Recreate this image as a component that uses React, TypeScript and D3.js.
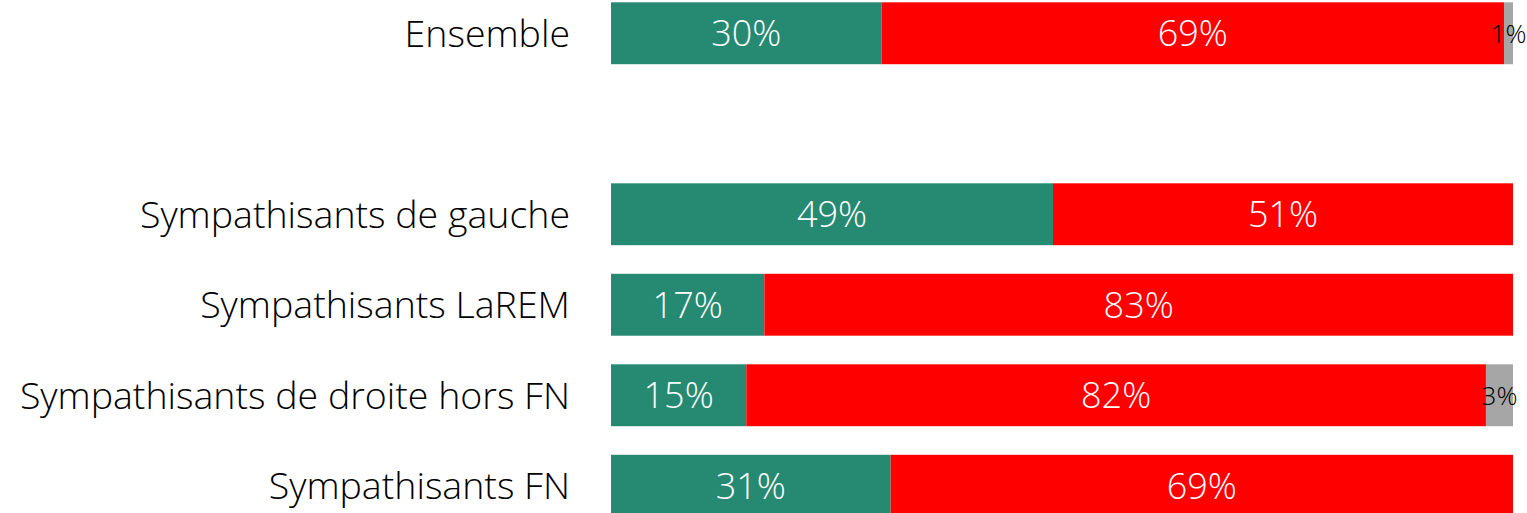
import React from "react";
import * as d3 from "d3";

const categories = [
  "Ensemble",
  "",
  "Sympathisants de gauche",
  "Sympathisants LaREM",
  "Sympathisants de droite hors FN",
  "Sympathisants FN",
];
const greenValues = [30, null, 49, 17, 15, 31];
const redValues = [69, null, 51, 83, 82, 69];
const greyValues = [1, null, 0, 0, 3, 0];

const W = 1527;
const H = 513;

export default function App() {
  const y = d3
    .scaleBand<string>()
    .domain(categories.map((c, i) => String(i)))
    .range([-12, 531])
    .paddingInner(0.316)
    .paddingOuter(0.158);
  const x = d3.scaleLinear().domain([0, 100]).range([611, 1513]);

  const series = [
    { values: greenValues, color: "#268A72", text: "#FFFFFF" },
    { values: redValues, color: "#FF0000", text: "#FFFFFF" },
    { values: greyValues, color: "#A6A6A6", text: "#000000" },
  ];

  const font = "'Open Sans', 'Noto Sans', sans-serif";

  return (
    <svg
      width={W}
      height={H}
      style={{ position: "absolute", left: 0, top: 0, display: "block", background: "#fff" }}
    >
      {categories.map((cat, i) => {
        const key = String(i);
        const y0 = y(key)!;
        const bh = y.bandwidth();
        const cy = y0 + bh / 2;
        if (greenValues[i] === null) return null;
        let acc = 0;
        const segs = series.map((s, si) => {
          const v = s.values[i] as number;
          const start = acc;
          acc += v;
          if (!v) return null;
          const x0 = x(start);
          const x1 = x(start + v);
          return (
            <g key={si}>
              <rect x={x0} y={y0} width={x1 - x0} height={bh} fill={s.color} />
              <text
                x={(x0 + x1) / 2}
                y={cy}
                dy="0.36em"
                textAnchor="middle"
                fill={s.text}
                fontFamily={font}
                fontWeight={300}
                fontSize={si === 2 ? 26 : 36}
              >
                {v}%
              </text>
            </g>
          );
        });
        return (
          <g key={key}>
            <text
              x={570}
              y={cy}
              dy="0.36em"
              textAnchor="end"
              fill="#000"
              fontFamily={font}
              fontWeight={300}
              fontSize={37.5}
            >
              {cat}
            </text>
            {segs}
          </g>
        );
      })}
    </svg>
  );
}
